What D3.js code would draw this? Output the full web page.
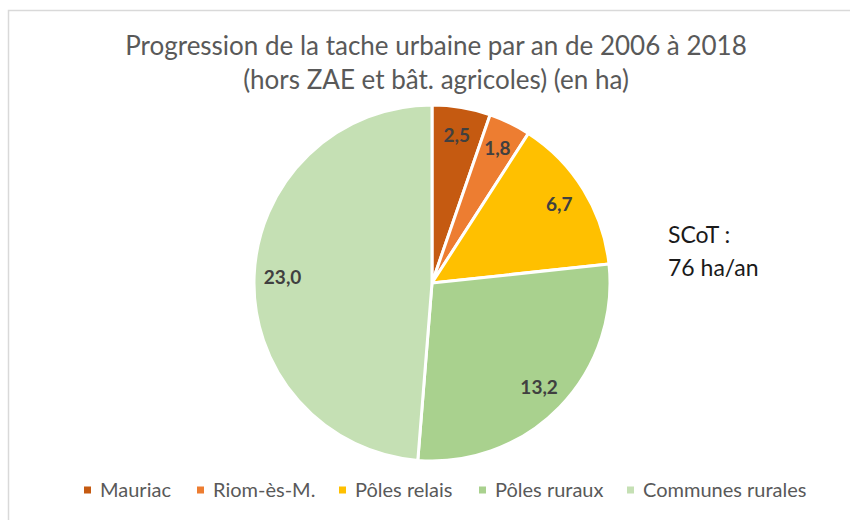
<!DOCTYPE html>
<html><head><meta charset="utf-8">
<script src="https://cdn.jsdelivr.net/npm/d3@7"></script>
<style>body{margin:0;background:#fff;}svg{display:block;font-family:Lato,"Open Sans",sans-serif;}</style>
</head><body>
<script>
const categories = ["Mauriac", "Riom-ès-M.", "Pôles relais", "Pôles ruraux", "Communes rurales"];
const values = [2.5, 1.8, 6.7, 13.2, 23.0];
const colors = ["#C55A11", "#ED7D31", "#FFC000", "#A9D18E", "#C5E0B4"];
const titleLines = ["Progression de la tache urbaine par an de 2006 à 2018", "(hors ZAE et bât. agricoles) (en ha)"];
const noteLines = ["SCoT :", "76 ha/an"];

const W = 850, H = 520;
const svg = d3.select("body").append("svg").attr("width", W).attr("height", H);

// frame
svg.append("path").attr("d", `M8.5,${H} L8.5,10.5 L${W},10.5`).attr("fill","none").attr("stroke","#d9d9d9").attr("stroke-width",1.5);

// title
svg.append("g").selectAll("text").data(titleLines).join("text")
  .attr("x", 436).attr("y", (d,i)=>55 + i*34).attr("text-anchor","middle")
  .attr("font-size", 26).attr("fill","#595959").text(d=>d);

const cx = 432, cy = 283, R = 178;
const pie = d3.pie().sort(null).value(d=>d)(values);
const arc = d3.arc().innerRadius(0).outerRadius(R);
const labelArc = d3.arc().innerRadius(R*0.84).outerRadius(R*0.84);
const fmt = v => d3.format(".1f")(v).replace(".", ",");

const g = svg.append("g").attr("transform", `translate(${cx},${cy})`);
g.selectAll("path").data(pie).join("path")
  .attr("d", arc).attr("fill", (d,i)=>colors[i])
  .attr("stroke","#fff").attr("stroke-width",3).attr("stroke-linejoin","round");
g.selectAll("text").data(pie).join("text")
  .attr("transform", d=>`translate(${labelArc.centroid(d)})`)
  .attr("text-anchor","middle").attr("dy","0.35em")
  .attr("font-size",19).attr("font-weight","bold").attr("fill","#404040")
  .text(d=>fmt(d.data));

// note
svg.append("g").selectAll("text").data(noteLines).join("text")
  .attr("x", 668).attr("y", (d,i)=>243 + i*33)
  .attr("font-size", 23).attr("fill","#1a1a1a").text(d=>d);

// legend
const legendX = [84, 197, 339, 479, 627];
const lg = svg.append("g").selectAll("g").data(categories).join("g")
  .attr("transform", (d,i)=>`translate(${legendX[i]},490)`);
lg.append("rect").attr("x",0).attr("y",-3.5).attr("width",7).attr("height",7).attr("fill",(d,i)=>colors[i]);
lg.append("text").attr("x",16).attr("dy","0.36em").attr("font-size",20).attr("fill","#595959").text(d=>d);
</script>
</body></html>
